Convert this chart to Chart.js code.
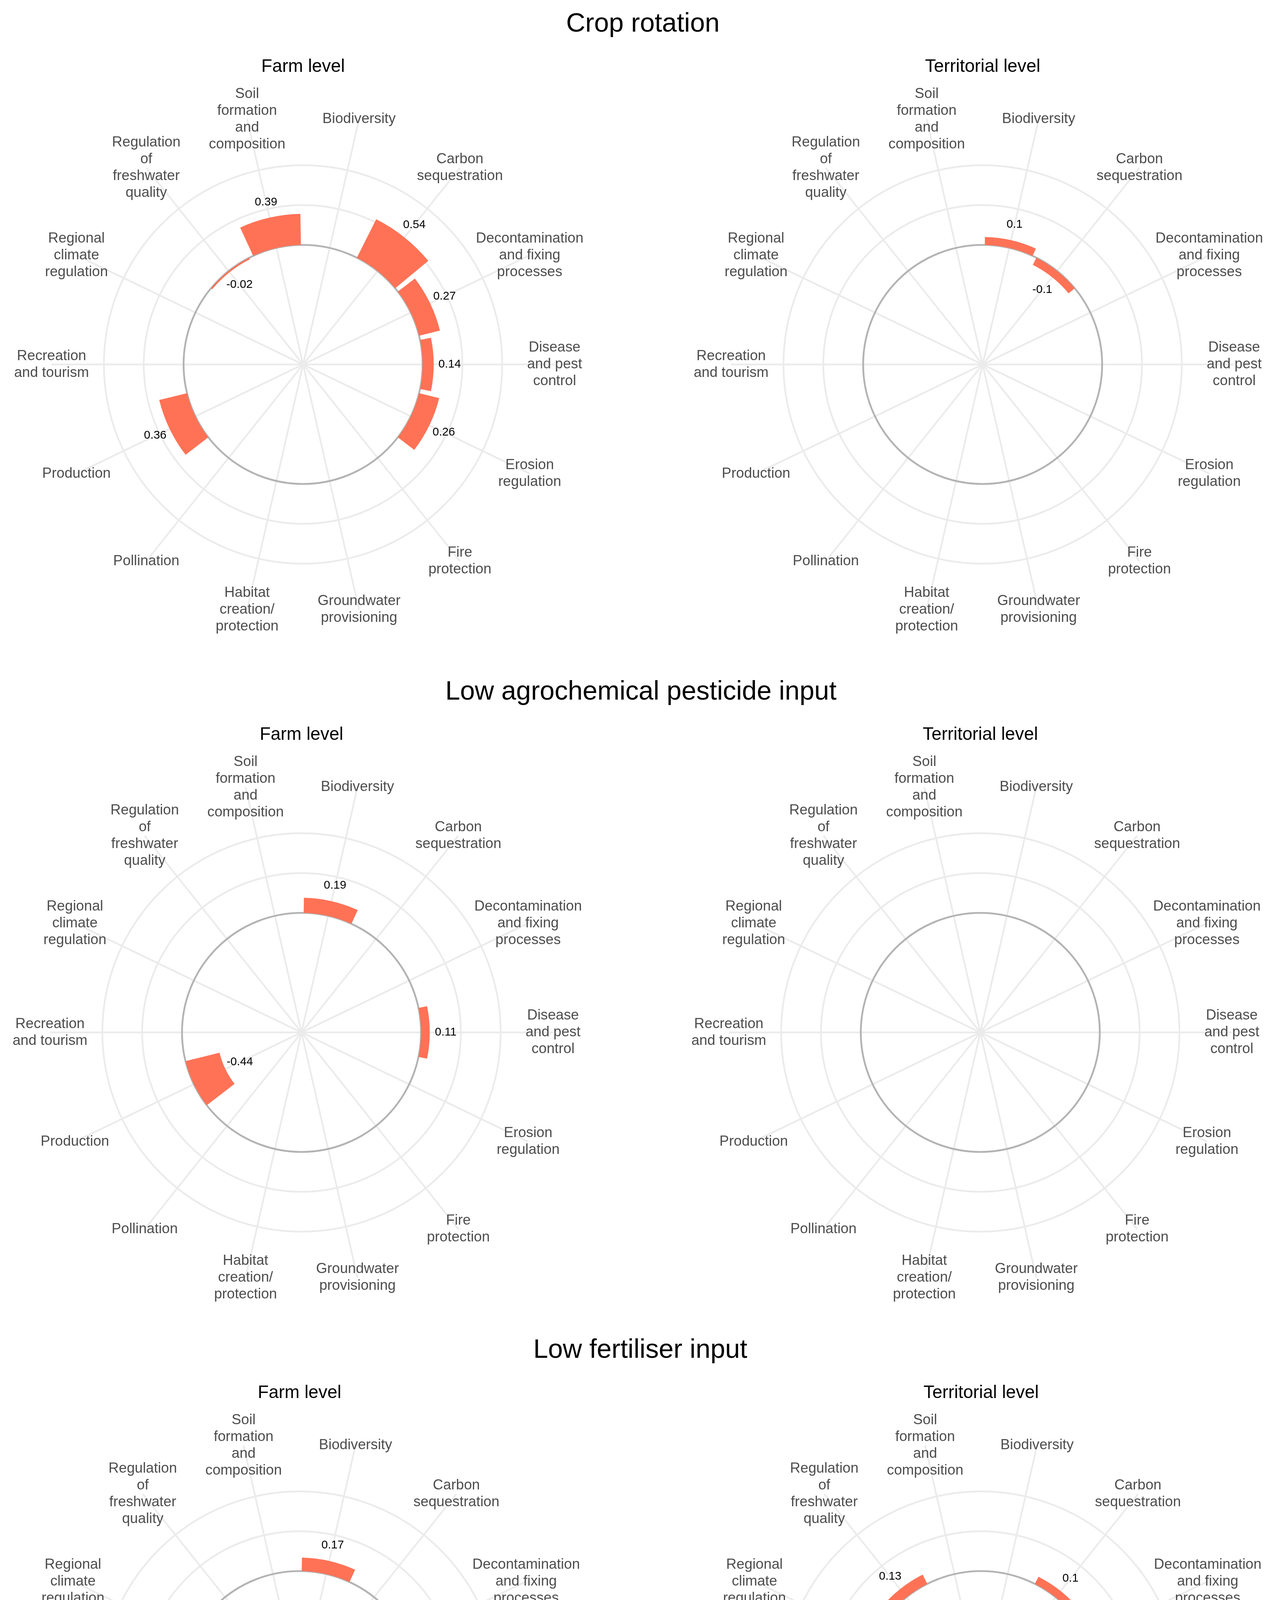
<!DOCTYPE html>
<html>
<head>
<meta charset="utf-8">
<script src="https://cdn.jsdelivr.net/npm/chart.js@4.4.1/dist/chart.umd.min.js"></script>
<style>
  html, body { margin: 0; padding: 0; background: #fff; }
  body { width: 3262px; height: 5051px; position: relative; overflow: hidden;
         font-family: 'Liberation Sans', Arial, sans-serif; }
  .title { position: absolute; width: 2000px; text-align: center; color: #000;
           font-size: 68px; line-height: 68px; white-space: nowrap; }
  .sub { position: absolute; width: 1000px; text-align: center; color: #000;
         font-size: 45.8px; line-height: 45.8px; white-space: nowrap; }
  canvas { position: absolute; }
</style>
</head>
<body>
<script>
// categories go clockwise from the top, in alphabetical order
const categories = [
  'Biodiversity', 'Carbon sequestration', 'Decontamination and fixing processes',
  'Disease and pest control', 'Erosion regulation', 'Fire protection',
  'Groundwater provisioning', 'Habitat creation/protection', 'Pollination',
  'Production', 'Recreation and tourism', 'Regional climate regulation',
  'Regulation of freshwater quality', 'Soil formation and composition',
];

const categoryTickLabels = [
  ['Biodiversity'],
  ['Carbon', 'sequestration'],
  ['Decontamination', 'and fixing', 'processes'],
  ['Disease', 'and pest', 'control'],
  ['Erosion', 'regulation'],
  ['Fire', 'protection'],
  ['Groundwater', 'provisioning'],
  ['Habitat', 'creation/', 'protection'],
  ['Pollination'],
  ['Production'],
  ['Recreation', 'and tourism'],
  ['Regional', 'climate', 'regulation'],
  ['Regulation', 'of', 'freshwater', 'quality'],
  ['Soil', 'formation', 'and', 'composition'],
];

//                       Bio   Carb  Deco  Dise  Eros  Fire  Grnd  Habi  Poll  Prod   Recr  Clim  Fresh  Soil
const cropFarm =        [null, 0.54, 0.27, 0.14, 0.26, null, null, null, null, 0.36,  null, null, -0.02, 0.39];
const cropTerritorial = [0.1,  -0.1, null, null, null, null, null, null, null, null,  null, null, null,  null];
const pestFarm =        [0.19, null, null, 0.11, null, null, null, null, null, -0.44, null, null, null,  null];
const pestTerritorial = [null, null, null, null, null, null, null, null, null, null,  null, null, null,  null];
const fertFarm =        [0.17, null, 0.14, null, null, null, null, null, null, -0.23, null, null, null,  null];
const fertTerritorial = [null, 0.1,  null, null, null, null, null, null, null, null,  null, null, 0.13,  null];

const sectionTitles = ['Crop rotation', 'Low agrochemical pesticide input', 'Low fertiliser input'];
const levelTitles = ['Farm level', 'Territorial level'];
const gridBreaks = [0.5, 1];

// radial axis: value at the centre and at the tip of the spokes
const R_MIN = -1.5;
const R_MAX = 1.657;

// layout (circle centres per row)
const ROW_CY = [933, 2643, 4328];
const ROW_CX = [[776, 2516], [772, 2510], [767, 2512]];
const SPOKE = 644;
const W = 1640, H = 1480;
const BAR_COLOR = '#FF7256';
const GRID_COLOR = '#EBEBEB';
const ZERO_COLOR = '#B3B3B3';
const FONT = "'Liberation Sans', Arial, sans-serif";

// polar area whose bars grow from the zero ring instead of the centre
class RingBarController extends Chart.PolarAreaController {
  updateElements(arcs, start, count, mode) {
    const scale = this._cachedMeta.rScale;
    const step = 2 * Math.PI / this.chart.data.labels.length;
    const half = step * 0.92 / 2;
    const r0 = scale.getDistanceFromCenterForValue(0);
    for (let i = start; i < start + count; i++) {
      const v = this.getParsed(i).r;
      const rv = Number.isFinite(v) ? scale.getDistanceFromCenterForValue(v) : r0;
      const mid = scale.getIndexAngle(i) - Math.PI / 2;
      const options = this.resolveDataElementOptions(i, mode);
      this.updateElement(arcs[i], i, {
        x: scale.xCenter,
        y: scale.yCenter,
        innerRadius: Math.min(r0, rv),
        outerRadius: Math.max(r0, rv),
        startAngle: mid - half,
        endAngle: mid + half,
        circumference: 2 * half,
        options,
      }, mode);
    }
  }
}
RingBarController.id = 'ringBar';
RingBarController.defaults = Chart.PolarAreaController.defaults;
RingBarController.overrides = Chart.PolarAreaController.overrides;
Chart.register(RingBarController);

const zeroRing = {
  id: 'zeroRing',
  beforeDatasetsDraw(chart) {
    const s = chart.scales.r;
    const ctx = chart.ctx;
    ctx.save();
    ctx.strokeStyle = ZERO_COLOR;
    ctx.lineWidth = 4.6;
    ctx.beginPath();
    ctx.arc(s.xCenter, s.yCenter, s.getDistanceFromCenterForValue(0), 0, 2 * Math.PI);
    ctx.stroke();
    ctx.restore();
  }
};

const textLayer = {
  id: 'textLayer',
  afterDatasetsDraw(chart) {
    const s = chart.scales.r;
    const ctx = chart.ctx;
    ctx.save();
    ctx.textAlign = 'center';
    ctx.textBaseline = 'middle';
    // category labels at the spoke tips
    ctx.fillStyle = '#4D4D4D';
    ctx.font = '36.7px ' + FONT;
    const lh = 43;
    categoryTickLabels.forEach((lines, i) => {
      const p = s.getPointPosition(i, s.drawingArea);
      const y0 = p.y - (lines.length - 1) * lh / 2;
      lines.forEach((t, k) => ctx.fillText(t, p.x, y0 + k * lh));
    });
    // value labels just beyond the bar ends
    ctx.fillStyle = '#000';
    ctx.font = '29.6px ' + FONT;
    chart.data.datasets[0].data.forEach((v, i) => {
      if (v === null) return;
      const r = s.getDistanceFromCenterForValue(v + (v >= 0 ? 0.2 : -0.2));
      const p = s.getPointPosition(i, r);
      ctx.fillText(String(v), p.x, p.y);
    });
    ctx.restore();
  }
};

function addText(cls, text, x, capY, size, boxW) {
  const d = document.createElement('div');
  d.className = cls;
  d.textContent = text;
  d.style.top = (capY - 0.4885 * size) + 'px';
  d.style.left = (x - boxW / 2) + 'px';
  document.body.appendChild(d);
}

function makePanel(values, cx, cy) {
  const canvas = document.createElement('canvas');
  canvas.width = W;
  canvas.height = H;
  canvas.style.width = W + 'px';
  canvas.style.height = H + 'px';
  document.body.appendChild(canvas);
  const padX = (W - 2 * SPOKE) / 2;
  const padY = (H - 2 * SPOKE) / 2;
  const chart = new Chart(canvas, {
    type: 'ringBar',
    data: {
      labels: categories,
      datasets: [{ data: values, backgroundColor: BAR_COLOR, borderWidth: 0, clip: false }],
    },
    options: {
      responsive: false,
      animation: false,
      layout: { padding: { left: padX, right: padX, top: padY, bottom: padY } },
      plugins: { legend: { display: false }, tooltip: { enabled: false } },
      scales: {
        r: {
          type: 'radialLinear',
          min: R_MIN,
          max: R_MAX,
          startAngle: 180 / categories.length,
          ticks: { display: false },
          afterBuildTicks: (scale) => { scale.ticks = gridBreaks.map(v => ({ value: v })); },
          grid: { circular: true, color: GRID_COLOR, lineWidth: 4.4 },
          angleLines: { display: true, color: GRID_COLOR, lineWidth: 4.4 },
          pointLabels: { display: false },
        }
      }
    },
    plugins: [zeroRing, textLayer],
  });
  const s = chart.scales.r;
  canvas.style.left = (cx - s.xCenter) + 'px';
  canvas.style.top = (cy - s.yCenter) + 'px';
}

const panelData = [
  [cropFarm, cropTerritorial],
  [pestFarm, pestTerritorial],
  [fertFarm, fertTerritorial],
];

panelData.forEach((pair, row) => {
  const cy = ROW_CY[row];
  const cxs = ROW_CX[row];
  pair.forEach((values, col) => makePanel(values, cxs[col], cy));
  addText('title', sectionTitles[row], (cxs[0] + cxs[1]) / 2, cy - 877, 68, 2000);
  levelTitles.forEach((t, col) => addText('sub', t, cxs[col], cy - 765, 45.8, 1000));
});
</script>
</body>
</html>
